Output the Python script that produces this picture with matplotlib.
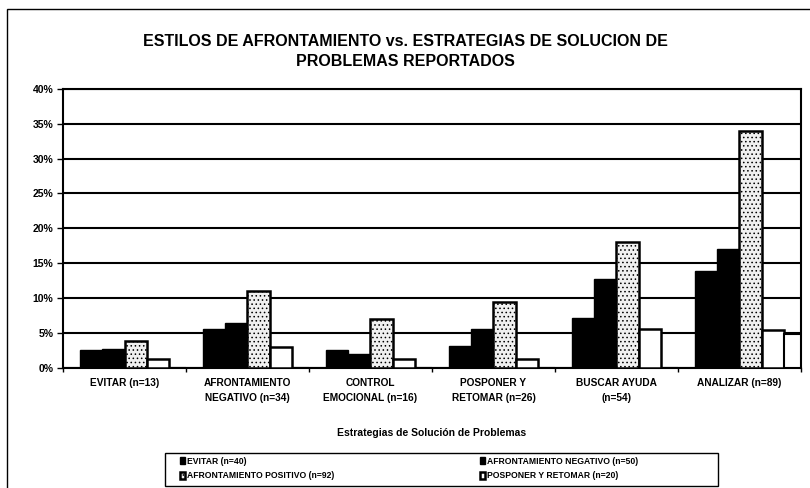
import numpy as np
import matplotlib
matplotlib.use("Agg")
import matplotlib.pyplot as plt
from matplotlib.patches import Rectangle
from matplotlib.ticker import FuncFormatter

# DATOS
categorias = ["EVITAR (n=13)", "AFRONTAMIENTO\nNEGATIVO (n=34)", "CONTROL\nEMOCIONAL (n=16)",
              "POSPONER Y\nRETOMAR (n=26)", "BUSCAR AYUDA\n(n=54)", "ANALIZAR (n=89)"]
evitar = [2.6, 5.6, 2.6, 3.1, 7.1, 13.9]
afr_negativo = [2.7, 6.4, 2.0, 5.6, 12.7, 17.1]
afr_positivo = [3.9, 11.0, 7.0, 9.4, 18.1, 33.9]
posponer = [1.3, 3.0, 1.3, 1.3, 5.6, 5.5]
extra = [0, 0, 0, 0, 0, 4.9]   # barra suelta al final del grupo ANALIZAR
series_nombres = ["EVITAR (n=40)", "AFRONTAMIENTO NEGATIVO (n=50)",
                  "AFRONTAMIENTO POSITIVO (n=92)", "POSPONER Y RETOMAR (n=20)"]
yticks = [0, 5, 10, 15, 20, 25, 30, 35, 40]

plt.rcParams['font.family'] = ['Liberation Sans', 'DejaVu Sans']
plt.rcParams['font.weight'] = 'bold'
plt.rcParams['hatch.color'] = '#9a9a9a'
plt.rcParams['hatch.linewidth'] = 0.6

fig = plt.figure(figsize=(8.1, 4.88), dpi=100)
ax = fig.add_axes([0.0778, 0.246, 0.911, 0.572])

x = np.arange(len(categorias))
w = 0.18
b1 = ax.bar(x - 1.5 * w, evitar, w, color='black', edgecolor='black', lw=1, zorder=3)
b2 = ax.bar(x - 0.5 * w, afr_negativo, w, color='black', edgecolor='black', lw=1, zorder=3)
b3 = ax.bar(x + 0.5 * w, afr_positivo, w, color='#f0f0f0', edgecolor='black', lw=1.8,
            hatch='....', zorder=3)
b4 = ax.bar(x + 1.5 * w, posponer, w, color='white', edgecolor='black', lw=1.8, zorder=3)
ax.bar(x + 2.4 * w, extra, 0.14, color='white', edgecolor='black', lw=1.5, zorder=3)

ax.set_xlim(-0.5, 5.5)
ax.set_ylim(0, 40)
ax.set_yticks(yticks)
ax.yaxis.set_major_formatter(FuncFormatter(lambda v, p: f"{int(v)}%"))
ax.yaxis.grid(True, color='black', lw=1.5, zorder=1)
ax.set_axisbelow(True)
for s in ax.spines.values():
    s.set_linewidth(1.5)

ax.set_xticks(np.arange(-0.5, 6, 1))
ax.set_xticklabels([])
ax.tick_params(axis='x', direction='out', length=3, width=1)
ax.tick_params(axis='y', direction='out', length=4, width=1, labelsize=7.5, pad=3)

for i, c in enumerate(categorias):
    ax.text(i, -1.5, c, ha='center', va='top', fontsize=7.3, fontweight='bold',
            linespacing=1.6)

ax.text(2.5, -9.3, "Estrategias de Solución de Problemas", ha='center', va='center',
        fontsize=7.5, fontweight='bold')

fig.text(0.5, 0.895, "ESTILOS DE AFRONTAMIENTO vs. ESTRATEGIAS DE SOLUCION DE\nPROBLEMAS REPORTADOS",
         ha='center', va='center', fontsize=11.5, fontweight='bold', linespacing=1.4)

# leyenda sin marco; el marco se dibuja aparte
leg = fig.legend([b1, b3, b2, b4],
                 [series_nombres[0], series_nombres[2], series_nombres[1], series_nombres[3]],
                 ncol=2, loc='center left', bbox_to_anchor=(172 / 810, 0.04), fontsize=6.2,
                 frameon=False, handlelength=0.6, handleheight=0.9, handletextpad=0.2,
                 columnspacing=17, labelspacing=0.6)
fig.add_artist(Rectangle((165 / 810, 2 / 488), 553 / 810, 33 / 488, transform=fig.transFigure,
                         fill=False, edgecolor='black', lw=1))

# marco exterior del grafico
fig.add_artist(Rectangle((7 / 810, -0.05), 1.1, 1 - 9 / 488 + 0.05, transform=fig.transFigure,
                         fill=False, edgecolor='black', lw=1, clip_on=False))

plt.savefig('out.png', dpi=100)
